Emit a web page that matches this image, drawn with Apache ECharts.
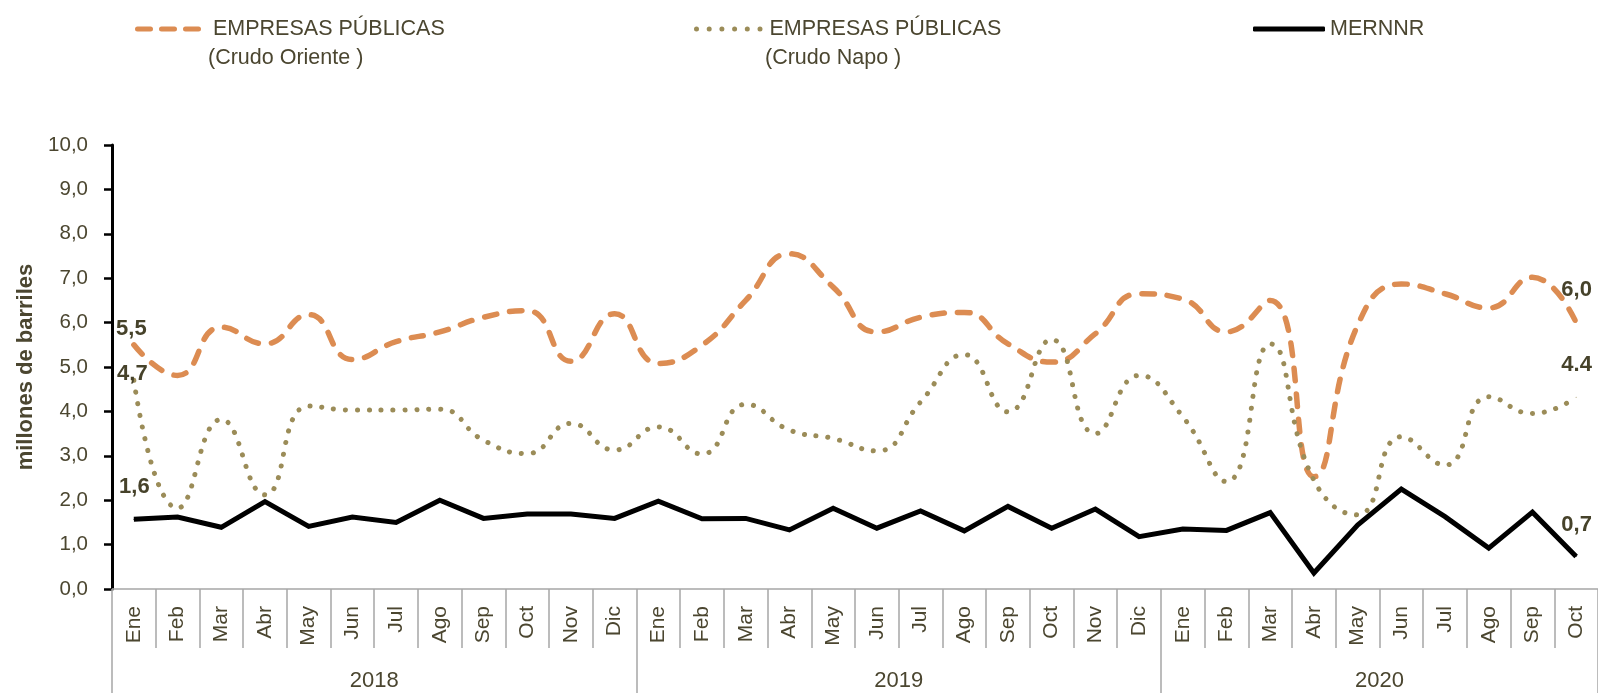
<!DOCTYPE html>
<html>
<head>
<meta charset="utf-8">
<title>Producción de crudo</title>
<script src="https://cdn.jsdelivr.net/npm/echarts@6/dist/echarts.min.js"></script>
<style>
  html, body { margin: 0; padding: 0; background: #fff; }
  #chart { width: 1598px; height: 693px; }
</style>
</head>
<body>
<div id="chart"></div>
<script>
var MONTH_NAMES = ['Ene', 'Feb', 'Mar', 'Abr', 'May', 'Jun', 'Jul', 'Ago', 'Sep', 'Oct', 'Nov', 'Dic'];
var YEARS = ['2018', '2019', '2020'];
var MONTHS_PER_YEAR = [12, 12, 10];

var NAME_ORIENTE = 'EMPRESAS PÚBLICAS\n(Crudo Oriente )';
var NAME_NAPO = 'EMPRESAS PÚBLICAS\n(Crudo Napo )';
var NAME_MERNNR = 'MERNNR';

// millones de barriles, Ene 2018 - Oct 2020
var oriente = [5.5, 4.81, 5.9, 5.52, 6.18, 5.17, 5.57, 5.79, 6.12, 6.27, 5.13, 6.2,
  5.08, 5.49, 6.5, 7.55, 6.8, 5.79, 6.12, 6.23, 5.52, 5.11, 5.75, 6.65,
  6.53, 5.79, 6.5, 2.53, 5.94, 6.87, 6.65, 6.33, 7.02, 6.0];
var napo = [4.7, 1.82, 3.82, 2.12, 4.12, 4.03, 4.03, 4.05, 3.35, 3.05, 3.73, 3.13,
  3.65, 3.04, 4.16, 3.58, 3.39, 3.11, 4.21, 5.28, 3.99, 5.62, 3.5, 4.81,
  3.88, 2.42, 5.52, 2.45, 1.67, 3.43, 2.79, 4.33, 3.95, 4.32];
var mernnr = [1.57, 1.62, 1.39, 1.97, 1.41, 1.62, 1.5, 2.0, 1.59, 1.69, 1.69, 1.59,
  1.98, 1.58, 1.59, 1.33, 1.82, 1.37, 1.76, 1.31, 1.86, 1.37, 1.8, 1.18,
  1.35, 1.32, 1.72, 0.36, 1.44, 2.25, 1.63, 0.92, 1.73, 0.73];

// first / last point labels as printed on the chart
var labelsOriente = ['5,5', '6,0'];
var labelsNapo = ['4,7', '4.4'];
var labelsMernnr = ['1,6', '0,7'];

var FONT = "'Liberation Sans', Arial, sans-serif";
var TEXT_COLOR = '#4b4630';
var GRID_COLOR = '#a6a6a6';
var ORANGE = '#dc8c52';
var OLIVE = '#9b8c58';

// legend keys drawn as paths: three rounded dashes, six dots
var DASH_ICON = 'path://M2.5,0H15.5A2.5,2.5,0,0,1,15.5,5H2.5A2.5,2.5,0,0,1,2.5,0Z' +
  'M26.5,0H39.5A2.5,2.5,0,0,1,39.5,5H26.5A2.5,2.5,0,0,1,26.5,0Z' +
  'M50.5,0H63.5A2.5,2.5,0,0,1,63.5,5H50.5A2.5,2.5,0,0,1,50.5,0Z';
var DOT_ICON = 'path://';
for (var d = 0; d < 6; d++) {
  var cx = 2.5 + d * 12.7;
  DOT_ICON += 'M' + (cx - 2.5) + ',2.5A2.5,2.5,0,1,1,' + (cx + 2.5) + ',2.5A2.5,2.5,0,1,1,' + (cx - 2.5) + ',2.5Z';
}

var monthLabels = [];
var yearAxisData = [];
var yearBounds = [0];
var pos = 0;
for (var y = 0; y < YEARS.length; y++) {
  for (var m = 0; m < MONTHS_PER_YEAR[y]; m++) {
    monthLabels.push(MONTH_NAMES[m]);
  }
  pos += MONTHS_PER_YEAR[y];
  yearBounds.push(pos * 2);
}
// year axis runs in half-month steps so a year name can sit in the middle of its months
for (var k = 0; k <= pos * 2; k++) yearAxisData.push('');
var start = 0;
for (var y = 0; y < YEARS.length; y++) {
  yearAxisData[start + MONTHS_PER_YEAR[y]] = YEARS[y];
  start += MONTHS_PER_YEAR[y] * 2;
}

function withEndLabels(values, texts, offsets) {
  var last = values.length - 1;
  return values.map(function (v, i) {
    if (i !== 0 && i !== last) return v;
    var n = i === 0 ? 0 : 1;
    return {
      value: v,
      symbol: 'circle',
      symbolSize: 1,
      label: {
        show: true,
        position: 'inside',
        offset: offsets[n],
        formatter: texts[n],
        fontFamily: FONT,
        fontSize: 22,
        fontWeight: 'bold',
        color: '#46422a'
      }
    };
  });
}

function legendFor(name, left, icon, w, pad) {
  return {
    left: left,
    top: 13,
    data: [name],
    icon: icon,
    itemWidth: w,
    itemHeight: 5,
    itemStyle: { borderWidth: 0 },
    formatter: function (n) { return n.split('\n')[0]; },
    textStyle: { fontFamily: FONT, fontSize: 21.5, color: TEXT_COLOR, padding: [0, 0, 0, pad] }
  };
}

var myChart = echarts.init(document.getElementById('chart'));
var option = {
  animation: false,
  backgroundColor: '#fff',
  textStyle: { fontFamily: FONT },
  legend: [
    legendFor(NAME_ORIENTE, 130, DASH_ICON, 66, 7),
    legendFor(NAME_NAPO, 689, DOT_ICON, 68.5, 2),
    legendFor(NAME_MERNNR, 1248, 'roundRect', 72, 0)
  ],
  graphic: [
    { type: 'text', left: 208, top: 47, style: { text: NAME_ORIENTE.split('\n')[1], font: '21.5px ' + FONT, fill: TEXT_COLOR } },
    { type: 'text', left: 765, top: 47, style: { text: NAME_NAPO.split('\n')[1], font: '21.5px ' + FONT, fill: TEXT_COLOR } }
  ],
  grid: { left: 112, top: 145, width: 1489, height: 444 },
  xAxis: [{
    type: 'category',
    position: 'bottom',
    data: monthLabels,
    boundaryGap: true,
    axisLine: { lineStyle: { color: GRID_COLOR, width: 1.5 } },
    axisTick: { show: true, interval: 0, length: 59, lineStyle: { color: GRID_COLOR, width: 1.5 } },
    axisLabel: { interval: 0, rotate: 90, margin: 17, fontSize: 21, color: TEXT_COLOR, fontFamily: FONT }
  }, {
    type: 'category',
    position: 'bottom',
    data: yearAxisData,
    boundaryGap: false,
    axisLine: { show: false },
    axisTick: {
      show: true,
      length: 110,
      interval: function (i) { return yearBounds.indexOf(i) >= 0; },
      lineStyle: { color: GRID_COLOR, width: 1.5 }
    },
    axisLabel: {
      interval: function (i, v) { return v !== ''; },
      margin: 81,
      fontSize: 22,
      color: TEXT_COLOR,
      fontFamily: FONT
    }
  }],
  yAxis: {
    type: 'value',
    min: 0,
    max: 10,
    interval: 1,
    name: 'millones de barriles',
    nameLocation: 'middle',
    nameGap: 74,
    nameTextStyle: { fontFamily: FONT, fontSize: 22, fontWeight: 'bold', color: TEXT_COLOR },
    axisLine: { show: true, lineStyle: { color: '#000', width: 3 } },
    axisTick: { show: true, length: 8, lineStyle: { color: '#000', width: 2.5 } },
    splitLine: { show: false },
    axisLabel: {
      margin: 24,
      fontSize: 20.5,
      color: TEXT_COLOR,
      fontFamily: FONT,
      formatter: function (v) { return v.toFixed(1).replace('.', ','); }
    }
  },
  series: [{
    name: NAME_ORIENTE,
    type: 'line',
    smooth: 0.5,
    symbol: 'none',
    data: withEndLabels(oriente, labelsOriente, [[-2.5, -15.5], [0.5, -33]]),
    itemStyle: { color: ORANGE },
    lineStyle: { color: ORANGE, width: 5.5, type: [12.5, 13], cap: 'round' }
  }, {
    name: NAME_NAPO,
    type: 'line',
    smooth: 0.5,
    symbol: 'none',
    data: withEndLabels(napo, labelsNapo, [[-1.5, -6], [0.5, -32]]),
    itemStyle: { color: OLIVE },
    lineStyle: { color: OLIVE, width: 5, type: [0.1, 11.8], cap: 'round' }
  }, {
    name: NAME_MERNNR,
    type: 'line',
    symbol: 'none',
    data: withEndLabels(mernnr, labelsMernnr, [[0.5, -32], [0.5, -32]]),
    itemStyle: { color: '#000' },
    lineStyle: { color: '#000', width: 5, join: 'miter' }
  }]
};
myChart.setOption(option);
</script>
</body>
</html>
